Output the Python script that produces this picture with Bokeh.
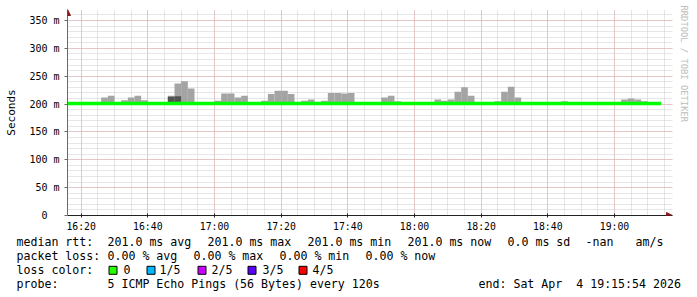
import datetime as dt
from bokeh.plotting import figure
from bokeh.layouts import column
from bokeh.models import (Range1d, FixedTicker, Label, Arrow, NormalHead, Title,
                          BoxAnnotation, DatetimeTickFormatter)
from bokeh.embed import file_html
from bokeh.resources import INLINE

# ---------------- data ----------------
start_time = dt.datetime(2026, 4, 4, 16, 16)
step_min = 2
view_start = dt.datetime(2026, 4, 4, 16, 15, 54)
view_end = dt.datetime(2026, 4, 4, 19, 15, 54)

# median rtt (ms) per 2-minute step, 16:16 .. 19:14
median_rtt = [
    201, 201, 201, 201, 201, 201, 201, 201, 201, 201,
    201, 201, 201, 201, 201, 201, 201, 201, 201, 201,
    201, 201, 201, 201, 201, 201, 201, 201, 201, 201,
    201, 201, 201, 201, 201, 201, 201, 201, 201, 201,
    201, 201, 201, 201, 201, 201, 201, 201, 201, 201,
    201, 201, 201, 201, 201, 201, 201, 201, 201, 201,
    201, 201, 201, 201, 201, 201, 201, 201, 201, 201,
    201, 201, 201, 201, 201, 201, 201, 201, 201, 201,
    201, 201, 201, 201, 201, 201, 201, 201, 201,
]
# upper edge of the smoke (max ping, ms)
smoke_max = [
    201, 201, 201, 201, 201, 212, 215, 201, 207, 212,
    215, 207, 201, 201, 201, 215, 237, 241, 228, 201,
    201, 201, 206, 219, 219, 212, 215, 201, 201, 206,
    218, 224, 224, 218, 201, 206, 208, 201, 206, 220,
    220, 219, 220, 201, 201, 201, 201, 212, 215, 205,
    201, 201, 201, 201, 201, 208, 206, 208, 222, 230,
    215, 201, 201, 201, 205, 222, 231, 212, 201, 201,
    201, 201, 201, 201, 205, 201, 201, 201, 201, 201,
    201, 201, 201, 208, 210, 208, 205, 201, 201,
]
# darker (denser) smoke band top (ms)
smoke_dark = [
    201, 201, 201, 201, 201, 201, 201, 201, 201, 201,
    201, 201, 201, 201, 201, 213, 214, 201, 201, 201,
    201, 201, 201, 201, 201, 201, 201, 201, 201, 201,
    201, 201, 201, 201, 201, 201, 201, 201, 201, 201,
    201, 201, 201, 201, 201, 201, 201, 201, 201, 201,
    201, 201, 201, 201, 201, 201, 201, 201, 201, 201,
    201, 201, 201, 201, 201, 201, 201, 201, 201, 201,
    201, 201, 201, 201, 201, 201, 201, 201, 201, 201,
    201, 201, 201, 201, 201, 201, 201, 201, 201,
]
smoke_base = 201

y_major = [0, 50, 100, 150, 200, 250, 300, 350]
y_minor = [0, 10, 20, 30, 40, 50, 60, 70, 80, 90, 100, 110, 120, 130, 140, 150,
           160, 170, 180, 190, 200, 210, 220, 230, 240, 250, 260, 270, 280, 290,
           300, 310, 320, 330, 340, 350, 360]
y_labels = ["0\u00a0\u00a0", "50 m", "100 m", "150 m", "200 m", "250 m", "300 m", "350 m"]
x_major_labels = ["16:20", "16:40", "17:00", "17:20", "17:40", "18:00", "18:20", "18:40", "19:00"]

# legend stats
median_avg, median_max, median_min, median_now, median_sd = "201.0", "201.0", "201.0", "201.0", "0.0"
loss_avg, loss_max, loss_min, loss_now = "0.00", "0.00", "0.00", "0.00"
loss_names = ["0", "1/5", "2/5", "3/5", "4/5"]
loss_colors = ["#26ff00", "#00b8ff", "#cc00ff", "#5a00ff", "#ff0000"]
probe_text = "5 ICMP Echo Pings (56 Bytes) every 120s"
end_text = "end: Sat Apr\u00a0 4 19:15:54 2026"

# ---------------- main chart ----------------
W = 697
H1 = 235          # chart part
H2 = 297 - H1     # legend part
LEFT, TOP = 67, 9
FRAME_RIGHT, FRAME_BOTTOM = 672, 215
PX_PER_MIN = 600.0 / 180.0
PX_PER_MS = 195.0 / 350.0
MONO = "DejaVu Sans Mono"

x_lo = view_start
x_hi = view_end + dt.timedelta(minutes=(FRAME_RIGHT - 667) / PX_PER_MIN)
y_hi = (FRAME_BOTTOM - TOP) / PX_PER_MS

p = figure(width=W, height=H1, x_axis_type="datetime", output_backend="svg",
           toolbar_location=None,
           x_range=Range1d(x_lo, x_hi), y_range=Range1d(0, y_hi),
           min_border_left=LEFT, min_border_right=W - FRAME_RIGHT,
           min_border_top=TOP, min_border_bottom=H1 - FRAME_BOTTOM)
p.frame_align = False
p.background_fill_color = "white"
p.border_fill_color = "white"
p.outline_line_color = None

def ms(t):
    return (t - dt.datetime(1970, 1, 1)).total_seconds() * 1000.0

starts = [start_time + dt.timedelta(minutes=step_min * k) for k in range(len(median_rtt))]
ends = [s + dt.timedelta(minutes=step_min) for s in starts]

x_major = [ms(dt.datetime(2026, 4, 4, int(s[:2]), int(s[3:]))) for s in x_major_labels]
x_minor = [ms(dt.datetime(2026, 4, 4, 16, 15) + dt.timedelta(minutes=5 * i)) for i in range(37)]

xt = FixedTicker(ticks=x_major, minor_ticks=x_minor)
yt = FixedTicker(ticks=y_major, minor_ticks=y_minor)
p.xaxis.ticker = xt
p.xgrid.ticker = xt
p.yaxis.ticker = yt
p.ygrid.ticker = yt

for g in (p.xgrid, p.ygrid):
    g.grid_line_color = "#e6a8a8"
    g.grid_line_dash = "1 1"
    g.minor_grid_line_color = "#cdcdcd"
    g.minor_grid_line_dash = "1 1"

p.xaxis.formatter = DatetimeTickFormatter(minsec="%H:%M", minutes="%H:%M",
                                          hourmin="%H:%M", hours="%H:%M")
p.yaxis.major_label_overrides = {v: l for v, l in zip(y_major, y_labels)}

for ax in (p.xaxis, p.yaxis):
    ax.minor_tick_line_color = None
    ax.major_label_text_font = MONO
    ax.major_label_text_color = "#000000"

p.yaxis.axis_line_color = "#6a6a6a"
p.yaxis.major_tick_line_color = "#6a6a6a"
p.yaxis.major_tick_out = 3
p.yaxis.major_tick_in = 0
p.yaxis.major_label_standoff = 4
p.yaxis.major_label_text_font_size = "10px"
p.yaxis.axis_label = "Seconds"
p.yaxis.axis_label_text_font = MONO
p.yaxis.axis_label_text_font_size = "11px"
p.yaxis.axis_label_text_font_style = "normal"
p.yaxis.axis_label_text_color = "#000000"
p.yaxis.axis_label_standoff = 8

p.xaxis.axis_line_color = "#222222"
p.xaxis.major_tick_line_color = "#222222"
p.xaxis.major_tick_out = 2
p.xaxis.major_tick_in = 2
p.xaxis.major_label_standoff = 1
p.xaxis.major_label_text_font_size = "9.8px"

# smoke
p.quad(left=starts, right=ends, bottom=smoke_base, top=smoke_max,
       fill_color="#a4a4a4", line_color=None)
p.quad(left=starts, right=ends, bottom=smoke_base, top=smoke_dark,
       fill_color="#525252", line_color=None)

# median line
p.step(x=starts + [ends[-1]], y=median_rtt + [median_rtt[-1]], mode="after",
       line_color="#00ff00", line_width=3.5)

# arrow heads at axis ends
head_col = "#8b1a1a"
p.add_layout(Arrow(x_start=0, y_start=FRAME_BOTTOM - TOP - 12, x_end=0, y_end=FRAME_BOTTOM - TOP,
                   start_units="screen", end_units="screen", line_alpha=0,
                   end=NormalHead(size=6, fill_color=head_col, line_color=head_col)))
p.add_layout(Arrow(x_start=FRAME_RIGHT - LEFT - 12, y_start=0, x_end=FRAME_RIGHT - LEFT, y_end=0,
                   start_units="screen", end_units="screen", line_alpha=0,
                   end=NormalHead(size=6, fill_color=head_col, line_color=head_col)))

# watermark on the right side
p.add_layout(Title(text="RRDTOOL / TOBI OETIKER", align="left", text_font=MONO,
                   text_font_size="8.8px", text_color="#bdbdbd", text_font_style="normal",
                   vertical_align="top", standoff=9, offset=-4), "right")

# ---------------- legend part ----------------
leg = figure(width=W, height=H2, output_backend="svg", toolbar_location=None,
             x_range=Range1d(0, W), y_range=Range1d(H2, 0),
             x_axis_location=None, y_axis_location=None,
             min_border=0, min_border_left=0, min_border_right=0,
             min_border_top=0, min_border_bottom=0)
leg.frame_align = False
leg.grid.visible = False
leg.outline_line_color = None
leg.background_fill_color = "white"
leg.border_fill_color = "white"

def put(text, x_px, y_px, size="11.6px"):
    leg.add_layout(Label(x=x_px, y=y_px - H1, text=text, text_font=MONO,
                         text_font_size=size, text_color="#000000",
                         text_align="left", text_baseline="middle"))

row_y = [241.5, 255.3, 269.3, 283.3]
row1 = [("median rtt:", 16), (median_avg + " ms avg", 107), (median_max + " ms max", 207),
        (median_min + " ms min", 307), (median_now + " ms now", 407),
        (median_sd + " ms sd", 507), ("-nan", 585), ("am/s", 635)]
row2 = [("packet loss:", 16), (loss_avg + " % avg", 107), (loss_max + " % max", 193),
        (loss_min + " % min", 279), (loss_now + " % now", 365)]
for t, x in row1:
    put(t, x, row_y[0])
for t, x in row2:
    put(t, x, row_y[1])

put("loss color:", 16, row_y[2])
box_x = [108, 146, 197, 247, 298]
lab_x = [123, 159, 211, 262, 312]
for name, col, bx, lx in zip(loss_names, loss_colors, box_x, lab_x):
    leg.add_layout(BoxAnnotation(left=bx + 0.5, right=bx + 8.5,
                                 top=row_y[2] - H1 - 3.5, bottom=row_y[2] - H1 + 4.5,
                                 fill_color=col, fill_alpha=1.0,
                                 line_color="black", line_width=1, line_alpha=1.0))
    put(name, lx, row_y[2])

put("probe:", 16, row_y[3])
put(probe_text, 107, row_y[3])
put(end_text, 478, row_y[3])

layout = column(p, leg, spacing=0)
open("out.html", "w").write(file_html(layout, INLINE))
